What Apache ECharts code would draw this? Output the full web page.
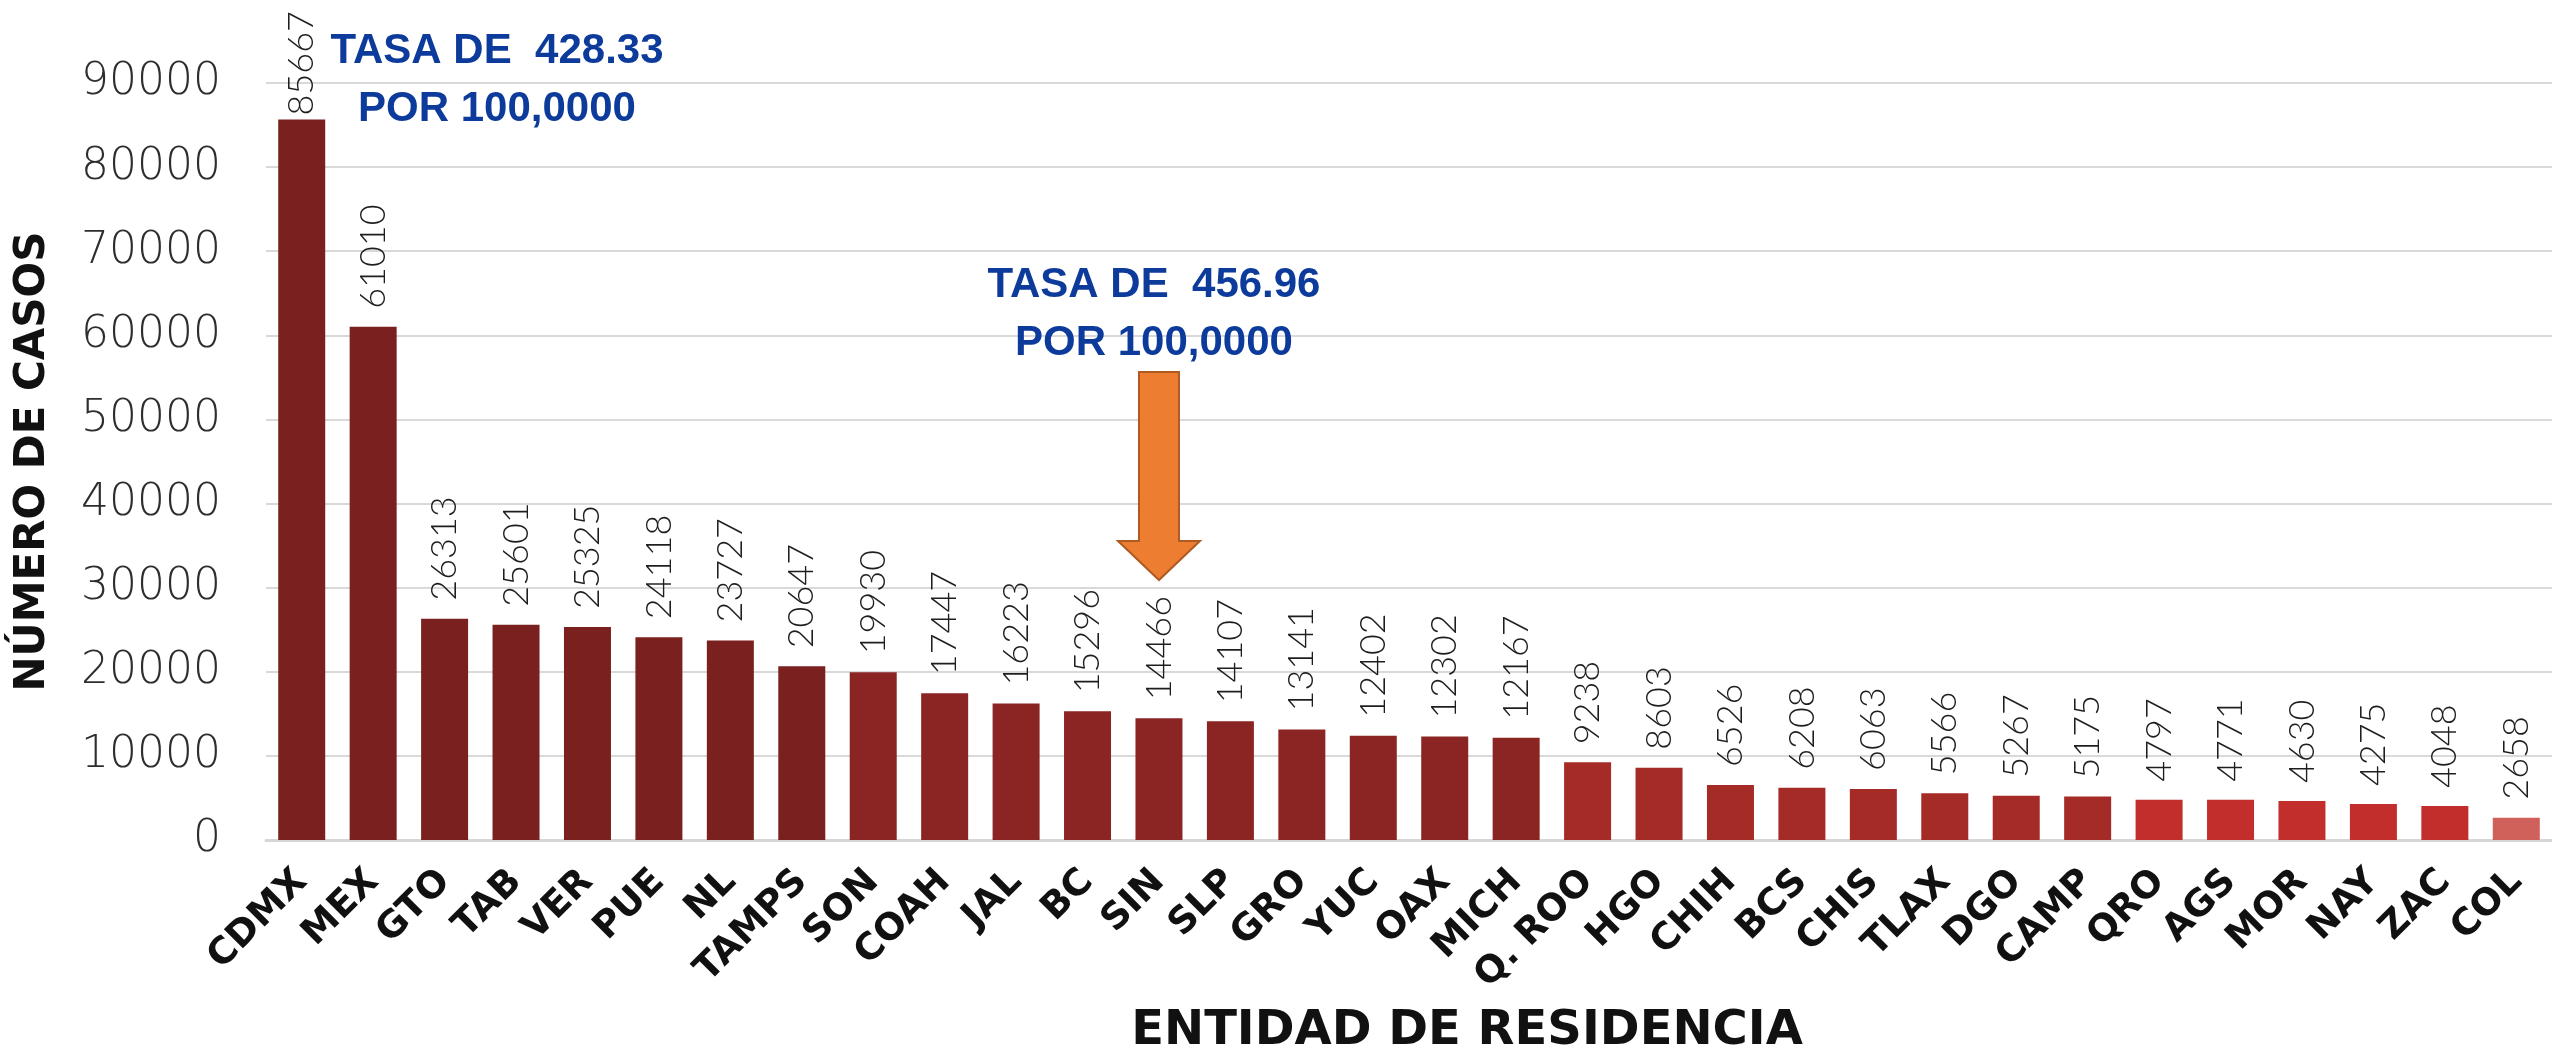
<!DOCTYPE html>
<html>
<head>
<meta charset="utf-8">
<script src="https://cdn.jsdelivr.net/npm/echarts@6/dist/echarts.min.js"></script>
<style>
  html, body { margin: 0; padding: 0; background: #fff; }
  #chart { width: 2552px; height: 1061px; }
</style>
</head>
<body>
<div id="chart"></div>
<script>
// entidades y casos
const entidades = ['CDMX', 'MEX', 'GTO', 'TAB', 'VER', 'PUE', 'NL', 'TAMPS', 'SON', 'COAH',
  'JAL', 'BC', 'SIN', 'SLP', 'GRO', 'YUC', 'OAX', 'MICH', 'Q. ROO', 'HGO',
  'CHIH', 'BCS', 'CHIS', 'TLAX', 'DGO', 'CAMP', 'QRO', 'AGS', 'MOR', 'NAY', 'ZAC', 'COL']
const casos = [85667, 61010, 26313, 25601, 25325, 24118, 23727, 20647, 19930, 17447,
  16223, 15296, 14466, 14107, 13141, 12402, 12302, 12167, 9238, 8603,
  6526, 6208, 6063, 5566, 5267, 5175, 4797, 4771, 4630, 4275, 4048, 2658]
const yTicks = [0, 10000, 20000, 30000, 40000, 50000, 60000, 70000, 80000, 90000]

// tonos por grupo (cuantas barras lleva cada color)
const shades = [
  { color: '#7a201e', n: 8 },
  { color: '#8b2523', n: 10 },
  { color: '#a52b27', n: 8 },
  { color: '#c22e2b', n: 5 },
  { color: '#d0605a', n: 1 }
]
const barColors = []
shades.forEach(s => { for (let i = 0; i < s.n; i++) barColors.push(s.color) })

const chart = echarts.init(document.getElementById('chart'))

const option = {
  animation: false,
  grid: { left: 266, top: 83, width: 2293, bottom: 206 },
  xAxis: {
    type: 'category',
    data: entidades,
    name: 'ENTIDAD DE RESIDENCIA',
    nameLocation: 'middle',
    nameGap: 168,
    nameTextStyle: {
      fontFamily: 'DejaVu Sans', fontWeight: 'bold', fontSize: 48, color: '#111',
      verticalAlign: 'top', padding: [0, 0, 0, 116]
    },
    axisLine: { lineStyle: { color: '#d6d6d6', width: 3 } },
    axisTick: { show: false },
    axisLabel: {
      interval: 0, rotate: 45, margin: 36,
      fontFamily: 'DejaVu Sans', fontWeight: 'bold', fontSize: 37, color: '#111'
    }
  },
  yAxis: {
    type: 'value',
    min: 0, max: yTicks[yTicks.length - 1], interval: yTicks[1] - yTicks[0],
    name: 'NÚMERO DE CASOS',
    nameLocation: 'middle',
    nameGap: 212,
    nameTextStyle: { fontFamily: 'DejaVu Sans', fontWeight: 'bold', fontSize: 42, color: '#111' },
    axisLine: { show: false },
    axisTick: { show: false },
    axisLabel: {
      margin: 45, fontFamily: 'DejaVu Sans', fontWeight: 200, fontSize: 44, color: '#2e2e2e',
      formatter: v => String(v)
    },
    splitLine: { lineStyle: { color: '#d9d9d9', width: 2 } }
  },
  series: [
    {
      type: 'bar',
      barWidth: 47,
      data: casos.map((v, i) => ({
        value: v,
        itemStyle: { color: barColors[i] },
        label: i === 0 ? { distance: 4 } : undefined
      })),
      label: {
        show: true,
        position: 'top',
        rotate: 90,
        align: 'left',
        verticalAlign: 'middle',
        distance: 18,
        fontFamily: 'Lato',
        fontWeight: 300,
        fontSize: 36,
        color: '#1e1e1e'
      }
    }
  ]
}

chart.setOption(option)

// anotaciones: tasa y flecha hacia SIN
const blue = '#0d3b9b'
const noteFont = { fontFamily: 'Liberation Sans Narrow, Liberation Sans', fontWeight: 'bold', fontSize: 42, fill: blue }
const sinX = chart.convertToPixel({ xAxisIndex: 0 }, 'SIN')

chart.setOption({
  graphic: [
    {
      type: 'text', x: 497, y: 22,
      style: Object.assign({ text: 'TASA DE  428.33\nPOR 100,0000', align: 'center', lineHeight: 58 }, noteFont)
    },
    {
      type: 'text', x: sinX - 5, y: 256,
      style: Object.assign({ text: 'TASA DE  456.96\nPOR 100,0000', align: 'center', lineHeight: 58 }, noteFont)
    },
    {
      type: 'polygon',
      shape: {
        points: [
          [sinX - 20, 372], [sinX + 20, 372], [sinX + 20, 541], [sinX + 41, 541],
          [sinX, 580], [sinX - 41, 541], [sinX - 20, 541]
        ]
      },
      style: { fill: '#ed7d31', stroke: '#ae5a21', lineWidth: 2 }
    }
  ]
})
</script>
</body>
</html>
